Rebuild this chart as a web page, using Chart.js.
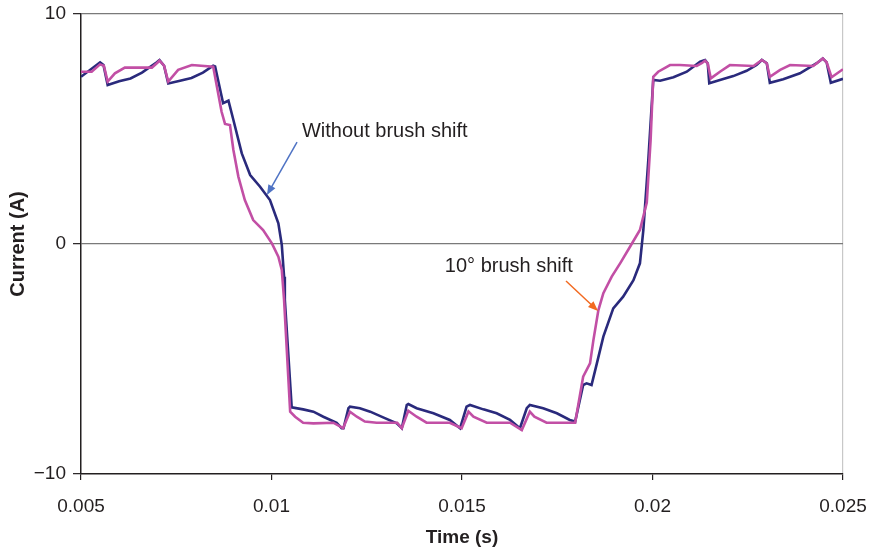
<!DOCTYPE html>
<html>
<head>
<meta charset="utf-8">
<script src="https://cdn.jsdelivr.net/npm/chart.js@4/dist/chart.umd.min.js"></script>
<style>
  html, body { margin: 0; padding: 0; background: #fff; }
  #wrap { width: 874px; height: 550px; position: relative; }
</style>
</head>
<body>
<div id="wrap"><canvas id="c"></canvas></div>
<script>
// ---- Data ----
const timeWithout = [
  0.00500, 0.00550, 0.00559, 0.00570, 0.00600, 0.00630, 0.00660, 0.00699, 0.00706, 0.00718,
  0.00729, 0.00760, 0.00790, 0.00820, 0.00847, 0.00852, 0.00873, 0.00887, 0.00900, 0.00922,
  0.00944, 0.00970, 0.00996, 0.01018, 0.01027, 0.01033, 0.01035, 0.01053, 0.01083, 0.01110,
  0.01136, 0.01171, 0.01184, 0.01189, 0.01202, 0.01206, 0.01232, 0.01259, 0.01293, 0.01329,
  0.01342, 0.01355, 0.01359, 0.01381, 0.01425, 0.01468, 0.01495, 0.01512, 0.01521, 0.01556,
  0.01591, 0.01626, 0.01652, 0.01670, 0.01678, 0.01713, 0.01749, 0.01783, 0.01797, 0.01818,
  0.01827, 0.01840, 0.01854, 0.01871, 0.01897, 0.01923, 0.01950, 0.01967, 0.01976, 0.01989,
  0.02002, 0.02020, 0.02055, 0.02090, 0.02125, 0.02138, 0.02145, 0.02149, 0.02177, 0.02212,
  0.02247, 0.02273, 0.02287, 0.02300, 0.02308, 0.02343, 0.02387, 0.02431, 0.02447, 0.02457,
  0.02468, 0.02500
];
const currentWithout = [
  7.27, 7.90, 7.78, 6.91, 7.08, 7.20, 7.45, 7.90, 8.00, 7.75,
  6.98, 7.10, 7.22, 7.45, 7.75, 7.72, 6.12, 6.23, 5.39, 3.94,
  3.00, 2.49, 1.91, 0.90, -0.04, -1.42, -2.43, -7.10, -7.19, -7.29,
  -7.51, -7.77, -8.01, -8.01, -7.14, -7.07, -7.14, -7.29, -7.54, -7.80,
  -8.01, -7.00, -6.96, -7.14, -7.36, -7.65, -8.01, -7.07, -7.00, -7.19,
  -7.36, -7.65, -8.01, -7.14, -7.00, -7.14, -7.36, -7.65, -7.72, -6.13,
  -6.06, -6.13, -5.19, -4.03, -2.80, -2.29, -1.57, -0.84, 0.61, 3.65,
  7.13, 7.10, 7.25, 7.49, 7.93, 8.00, 7.85, 6.99, 7.13, 7.30,
  7.53, 7.78, 8.00, 7.86, 7.01, 7.16, 7.42, 7.86, 8.07, 7.90,
  7.01, 7.18
];
const timeShift = [
  0.00500, 0.00528, 0.00550, 0.00560, 0.00570, 0.00589, 0.00615, 0.00686, 0.00699, 0.00706,
  0.00718, 0.00729, 0.00755, 0.00791, 0.00847, 0.00869, 0.00878, 0.00891, 0.00900, 0.00913,
  0.00930, 0.00952, 0.00978, 0.01001, 0.01018, 0.01027, 0.01033, 0.01049, 0.01062, 0.01083,
  0.01110, 0.01162, 0.01188, 0.01206, 0.01224, 0.01245, 0.01276, 0.01330, 0.01342, 0.01359,
  0.01381, 0.01407, 0.01468, 0.01499, 0.01517, 0.01530, 0.01565, 0.01626, 0.01657, 0.01678,
  0.01690, 0.01722, 0.01797, 0.01818, 0.01836, 0.01845, 0.01858, 0.01871, 0.01893, 0.01915,
  0.01941, 0.01967, 0.01985, 0.01995, 0.02002, 0.02015, 0.02046, 0.02072, 0.02116, 0.02129,
  0.02138, 0.02145, 0.02153, 0.02177, 0.02203, 0.02265, 0.02287, 0.02300, 0.02308, 0.02335,
  0.02361, 0.02422, 0.02447, 0.02457, 0.02470, 0.02500
];
const currentShift = [
  7.49, 7.49, 7.81, 7.75, 7.06, 7.42, 7.67, 7.67, 7.86, 7.97,
  7.75, 7.06, 7.57, 7.78, 7.71, 5.75, 5.22, 5.17, 4.09, 2.93,
  1.91, 1.04, 0.61, 0.03, -0.55, -1.13, -2.43, -7.29, -7.51, -7.77,
  -7.80, -7.77, -8.01, -7.29, -7.51, -7.72, -7.77, -7.77, -8.01, -7.25,
  -7.51, -7.77, -7.77, -8.01, -7.29, -7.51, -7.77, -7.77, -8.09, -7.29,
  -7.51, -7.77, -7.77, -5.77, -5.19, -4.17, -2.87, -2.14, -1.42, -0.84,
  -0.12, 0.61, 1.80, 4.50, 7.27, 7.49, 7.78, 7.78, 7.74, 7.86,
  7.97, 7.85, 7.20, 7.49, 7.78, 7.74, 8.00, 7.86, 7.27, 7.57,
  7.78, 7.74, 8.07, 7.90, 7.25, 7.60
];
const xTicks = [0.005, 0.01, 0.015, 0.02, 0.025];
const xTickLabels = ['0.005', '0.01', '0.015', '0.02', '0.025'];
const yTicks = [-10, 0, 10];
const yTickLabels = ['\u221210', '0', '10'];
const seriesNames = ['Without brush shift', '10\u00b0 brush shift'];

// ---- Callouts (anchored in data units) ----
const callouts = [
  { text: seriesNames[0], at: [0.01080, 4.91], from: [0.01067, 4.43], to: [0.00988, 2.13], arrowColor: '#4f73c4' },
  { text: seriesNames[1], at: [0.01455, -0.96], from: [0.01773, -1.61], to: [0.01857, -2.91], arrowColor: '#f26a21' }
];

const FONT = '"Liberation Sans", Arial, Helvetica, sans-serif';
const toPts = (xs, ys) => xs.map((x, i) => ({ x, y: ys[i] }));

const calloutPlugin = {
  id: 'callouts',
  afterDatasetsDraw(chart) {
    const { ctx, scales: { x, y } } = chart;
    ctx.save();
    callouts.forEach(c => {
      ctx.font = '20px ' + FONT;
      ctx.fillStyle = '#231f20';
      ctx.textAlign = 'left';
      ctx.textBaseline = 'middle';
      ctx.fillText(c.text, x.getPixelForValue(c.at[0]), y.getPixelForValue(c.at[1]));
      const x1 = x.getPixelForValue(c.from[0]), y1 = y.getPixelForValue(c.from[1]);
      const x2 = x.getPixelForValue(c.to[0]), y2 = y.getPixelForValue(c.to[1]);
      const ang = Math.atan2(y2 - y1, x2 - x1);
      const head = 10, hw = 4;
      ctx.strokeStyle = c.arrowColor;
      ctx.fillStyle = c.arrowColor;
      ctx.lineWidth = 1.5;
      ctx.beginPath();
      ctx.moveTo(x1, y1);
      ctx.lineTo(x2 - Math.cos(ang) * head * 0.8, y2 - Math.sin(ang) * head * 0.8);
      ctx.stroke();
      ctx.beginPath();
      ctx.moveTo(x2, y2);
      ctx.lineTo(x2 - Math.cos(ang) * head - Math.sin(ang) * hw, y2 - Math.sin(ang) * head + Math.cos(ang) * hw);
      ctx.lineTo(x2 - Math.cos(ang) * head + Math.sin(ang) * hw, y2 - Math.sin(ang) * head - Math.cos(ang) * hw);
      ctx.closePath();
      ctx.fill();
    });
    ctx.restore();
  }
};

new Chart(document.getElementById('c'), {
  type: 'line',
  data: {
    datasets: [
      {
        label: seriesNames[1],
        data: toPts(timeShift, currentShift),
        borderColor: '#c24fa5',
        borderWidth: 2.6,
        pointRadius: 0,
        tension: 0,
        order: 0
      },
      {
        label: seriesNames[0],
        data: toPts(timeWithout, currentWithout),
        borderColor: '#2a2a7c',
        borderWidth: 2.6,
        pointRadius: 0,
        tension: 0,
        order: 1
      }
    ]
  },
  options: {
    responsive: true,
    maintainAspectRatio: false,
    animation: false,
    events: [],
    layout: { padding: { left: 0, top: 14, right: 31, bottom: 0 } },
    plugins: { legend: { display: false }, tooltip: { enabled: false } },
    scales: {
      x: {
        type: 'linear',
        min: 0.005,
        max: 0.025,
        afterBuildTicks: s => { s.ticks = xTicks.map(v => ({ value: v })); },
        afterFit: s => { s.height = 76; s.paddingLeft = 0; s.paddingRight = 0; },
        ticks: {
          callback: (v, i) => xTickLabels[i],
          font: { family: FONT, size: 19 },
          color: '#231f20',
          padding: 15,
          maxRotation: 0,
          autoSkip: false
        },
        grid: {
          color: c => (c.index === xTicks.length - 1 ? '#c8c8c8' : 'rgba(0,0,0,0)'),
          lineWidth: 1.2,
          tickLength: 6,
          tickColor: '#231f20',
          tickWidth: 1.2
        },
        border: { color: '#231f20', width: 1.5 },
        title: {
          display: true,
          text: 'Time (s)',
          font: { family: FONT, size: 19, weight: 'bold' },
          color: '#231f20',
          padding: { top: 0, bottom: 1 }
        }
      },
      y: {
        type: 'linear',
        min: -10,
        max: 10,
        afterBuildTicks: s => { s.ticks = yTicks.map(v => ({ value: v })); },
        afterFit: s => { s.width = 81; s.paddingTop = 0; s.paddingBottom = 0; },
        ticks: {
          callback: (v, i) => yTickLabels[i],
          font: { family: FONT, size: 19 },
          color: '#231f20',
          padding: 7
        },
        grid: {
          color: c => (c.tick && c.tick.value === -10 ? 'rgba(0,0,0,0)' : '#7a7a7a'),
          lineWidth: 1.3,
          tickLength: 8,
          tickColor: '#231f20',
          tickWidth: 1.2
        },
        border: { color: '#231f20', width: 1.5 },
        title: {
          display: true,
          text: 'Current (A)',
          font: { family: FONT, size: 20, weight: 'bold' },
          color: '#231f20',
          padding: { top: 6, bottom: 0 }
        }
      }
    }
  },
  plugins: [calloutPlugin]
});
</script>
</body>
</html>
